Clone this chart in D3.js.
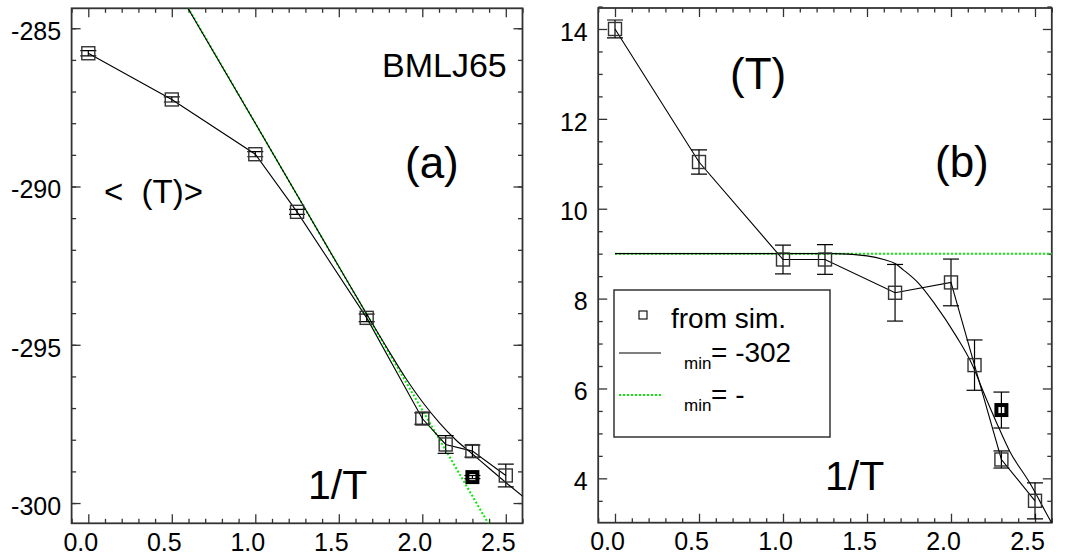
<!DOCTYPE html>
<html><head><meta charset="utf-8">
<script src="https://cdn.jsdelivr.net/npm/d3@7"></script>
<style>
body{margin:0;background:#fff;}
svg text{font-family:"Liberation Sans",Arial,Helvetica,sans-serif;fill:#000;}
</style></head><body>
<svg id="chart" width="1068" height="557"></svg>
<script>
// ---------- data ----------
const invT = [0, 0.5, 1.0, 1.25, 1.667, 2.0, 2.14, 2.3, 2.5];
// panel (a): mean energy
const energySim = [-285.79, -287.25, -288.98, -290.80, -294.15, -297.33, -298.15, -298.36, -299.13];
const energyErr = [0.08, 0.08, 0.08, 0.08, 0.12, 0.18, 0.28, 0.19, 0.36];
const energyBoldX = [2.3];
const energyBoldY = [-299.18];
const energyBoldErr = [0.05];
const energyFitX = [0.5, 1.0, 1.5, 1.667, 1.8, 1.9, 2.0, 2.1, 2.2, 2.3, 2.4, 2.5, 2.6, 2.65];
const energyFitY = [-283.5, -288.0, -292.53, -294.03, -295.2, -296.05, -296.8, -297.45, -298.0, -298.45, -298.9, -299.35, -299.78, -299.98];
const energyGaussX = [0.5, 2.45];
const energyGaussY = [-283.47, -301.14];
// panel (b): variance
const sigmaSim = [14.0, 11.04, 8.87, 8.87, 8.13, 8.36, 6.52, 4.42, 3.5];
const sigmaErr = [0.2, 0.27, 0.32, 0.33, 0.63, 0.52, 0.56, 0.19, 0.4];
const sigmaBoldX = [2.3];
const sigmaBoldY = [5.52];
const sigmaBoldErr = [0.4];
const sigmaFitX = [0, 0.5, 1.0, 1.3, 1.5, 1.6, 1.667, 1.716, 1.81, 1.9, 2.03, 2.13, 2.19, 2.27, 2.35, 2.47, 2.59, 2.64];
const sigmaFitY = [9.0, 9.0, 9.0, 9.0, 8.95, 8.87, 8.78, 8.64, 8.33, 7.9, 7.17, 6.5, 5.95, 5.25, 4.6, 3.89, 3.07, 2.75];
const sigmaGaussX = [0, 2.6];
const sigmaGaussY = [9.0, 9.0];
// axes ticks
const xMajor = [0, 0.5, 1.0, 1.5, 2.0, 2.5];
const xMinor = [-0.1,0.1,0.2,0.3,0.4,0.6,0.7,0.8,0.9,1.1,1.2,1.3,1.4,1.6,1.7,1.8,1.9,2.1,2.2,2.3,2.4,2.6];
const yMajorA = [-300, -295, -290, -285];
const yMinorA = [-300,-299,-298,-297,-296,-295,-294,-293,-292,-291,-290,-289,-288,-287,-286,-285];
const yMajorB = [4, 6, 8, 10, 12, 14];
const yMinorB = [3.5,4.5,5,5.5,6.5,7,7.5,8.5,9,9.5,10.5,11,11.5,12.5,13,13.5,14.5];
const legendLabels = ["from sim.", "= -302", "= -"];
const subLabel = "min";

// ---------- drawing ----------
const svg = d3.select("#chart");
const GREEN = "#00f000";
const FRAME = "#333";

function panel(id, xr, yDom, yr, yMajor, yMinor) {
  const x = d3.scaleLinear().domain([-0.1, 2.6]).range(xr);
  const y = d3.scaleLinear().domain(yDom).range(yr);
  const g = svg.append("g");
  g.append("clipPath").attr("id", "clip" + id)
    .append("rect").attr("x", xr[0]).attr("y", yr[1]).attr("width", xr[1]-xr[0]).attr("height", yr[0]-yr[1]);
  const yFmt = d => String(d);
  // bottom axis
  const bx = g.append("g").attr("transform", `translate(0,${yr[0]})`)
    .call(d3.axisBottom(x).tickValues(xMajor).tickSize(-9).tickFormat(d3.format(".1f")));
  bx.selectAll("text").attr("y", 27.3).attr("dy", null).attr("dx", -8).attr("font-size", 25);
  g.append("g").attr("transform", `translate(0,${yr[0]})`)
    .call(d3.axisBottom(x).tickValues(xMinor).tickSize(-4.5).tickFormat(""));
  // top axis
  g.append("g").attr("transform", `translate(0,${yr[1]})`)
    .call(d3.axisTop(x).tickValues(xMajor).tickSize(-9).tickFormat(""));
  g.append("g").attr("transform", `translate(0,${yr[1]})`)
    .call(d3.axisTop(x).tickValues(xMinor).tickSize(-4.5).tickFormat(""));
  // left axis
  const ly = g.append("g").attr("transform", `translate(${xr[0]},0)`)
    .call(d3.axisLeft(y).tickValues(yMajor).tickSize(-9).tickPadding(10.5).tickFormat(yFmt));
  ly.selectAll("text").attr("dy", "0.45em").attr("font-size", 25);
  g.append("g").attr("transform", `translate(${xr[0]},0)`)
    .call(d3.axisLeft(y).tickValues(yMinor).tickSize(-4.5).tickFormat(""));
  // right axis
  g.append("g").attr("transform", `translate(${xr[1]},0)`)
    .call(d3.axisRight(y).tickValues(yMajor).tickSize(-9).tickFormat(""));
  g.append("g").attr("transform", `translate(${xr[1]},0)`)
    .call(d3.axisRight(y).tickValues(yMinor).tickSize(-4.5).tickFormat(""));
  g.selectAll(".domain").remove();
  g.selectAll(".tick line").attr("stroke", FRAME).attr("stroke-width", 1.3);
  g.append("rect").attr("x", xr[0]).attr("y", yr[1]).attr("width", xr[1]-xr[0]).attr("height", yr[0]-yr[1])
    .attr("fill", "none").attr("stroke", FRAME).attr("stroke-width", 1.8);
  const plot = g.append("g").attr("clip-path", `url(#clip${id})`);
  return {x, y, g, plot};
}

function drawSeries(p, simY, err, boldX, boldY, boldErr, fitX, fitY, gX, gY) {
  const {x, y, plot} = p;
  const line = d3.line().x(d => x(d[0])).y(d => y(d[1]));
  // gaussian (green dotted)
  plot.append("path").datum(d3.zip(gX, gY)).attr("d", line)
    .attr("fill", "none").attr("stroke", GREEN).attr("stroke-width", 2).attr("stroke-dasharray", "2,2");
  // fit curve (black)
  plot.append("path").datum(d3.zip(fitX, fitY)).attr("d", d3.line().curve(d3.curveMonotoneX).x(d => x(d[0])).y(d => y(d[1])))
    .attr("fill", "none").attr("stroke", "#000").attr("stroke-width", 1.1);
  // polyline through data
  plot.append("path").datum(d3.zip(invT, simY)).attr("d", line)
    .attr("fill", "none").attr("stroke", "#000").attr("stroke-width", 1.1);
  // error bars
  const pts = d3.zip(invT, simY, err).concat(d3.zip(boldX, boldY, boldErr));
  const eb = plot.append("g").attr("stroke", "#000").attr("stroke-width", 1.2);
  pts.forEach(d => {
    const cx = x(d[0]), y1 = y(d[1] + d[2]), y2 = y(d[1] - d[2]);
    eb.append("line").attr("x1", cx).attr("x2", cx).attr("y1", y1).attr("y2", y2);
    eb.append("line").attr("x1", cx-8).attr("x2", cx+8).attr("y1", y1).attr("y2", y1);
    eb.append("line").attr("x1", cx-8).attr("x2", cx+8).attr("y1", y2).attr("y2", y2);
  });
  // open squares
  plot.append("g").selectAll("rect").data(d3.zip(invT, simY)).join("rect")
    .attr("x", d => x(d[0]) - 6.5).attr("y", d => y(d[1]) - 6.5).attr("width", 13).attr("height", 13)
    .attr("fill", "none").attr("stroke", "#333").attr("stroke-width", 1.4);
  // bold square
  plot.append("g").selectAll("rect").data(d3.zip(boldX, boldY)).join("rect")
    .attr("x", d => x(d[0]) - 5).attr("y", d => y(d[1]) - 5).attr("width", 10).attr("height", 10)
    .attr("fill", "none").attr("stroke", "#000").attr("stroke-width", 4);
}

// panel (a)
const pa = panel("a", [71.6, 522.5], [-300.64, -284.37], [523.3, 8.3], yMajorA, yMinorA);
drawSeries(pa, energySim, energyErr, energyBoldX, energyBoldY, energyBoldErr, energyFitX, energyFitY, energyGaussX, energyGaussY);
svg.append("text").attr("x", 382).attr("y", 77).attr("font-size", 34).text("BMLJ65");
svg.append("text").attr("x", 405).attr("y", 178).attr("font-size", 44).text("(a)");
svg.append("text").attr("x", 104).attr("y", 203).attr("font-size", 33).style("white-space", "pre").text("<  (T)>");
svg.append("text").attr("x", 308).attr("y", 499).attr("font-size", 41).text("1/T");

// panel (b)
const pb = panel("b", [598.2, 1051.8], [3.013, 14.467], [522.7, 8], yMajorB, yMinorB);
drawSeries(pb, sigmaSim, sigmaErr, sigmaBoldX, sigmaBoldY, sigmaBoldErr, sigmaFitX, sigmaFitY, sigmaGaussX, sigmaGaussY);
svg.append("text").attr("x", 730).attr("y", 89).attr("font-size", 44).text("(T)");
svg.append("text").attr("x", 935).attr("y", 177).attr("font-size", 44).text("(b)");
svg.append("text").attr("x", 825).attr("y", 490).attr("font-size", 41).text("1/T");

// legend
const lg = svg.append("g");
lg.append("rect").attr("x", 614).attr("y", 290).attr("width", 216).attr("height", 147)
  .attr("fill", "#fff").attr("stroke", FRAME).attr("stroke-width", 1.5);
lg.append("rect").attr("x", 639).attr("y", 311).attr("width", 8).attr("height", 8)
  .attr("fill", "none").attr("stroke", "#000").attr("stroke-width", 1.1);
lg.append("text").attr("x", 671).attr("y", 328).attr("font-size", 28).text(legendLabels[0]);
lg.append("line").attr("x1", 619).attr("x2", 661).attr("y1", 353).attr("y2", 353).attr("stroke", "#000").attr("stroke-width", 1.1);
lg.append("text").attr("x", 684).attr("y", 369).attr("font-size", 17).text(subLabel);
lg.append("text").attr("x", 711).attr("y", 362).attr("font-size", 28).text(legendLabels[1]);
lg.append("line").attr("x1", 619).attr("x2", 661).attr("y1", 395).attr("y2", 395).attr("stroke", GREEN).attr("stroke-width", 2).attr("stroke-dasharray", "2,2");
lg.append("text").attr("x", 684).attr("y", 411).attr("font-size", 17).text(subLabel);
lg.append("text").attr("x", 711).attr("y", 404).attr("font-size", 28).text(legendLabels[2]);
</script>
</body></html>
